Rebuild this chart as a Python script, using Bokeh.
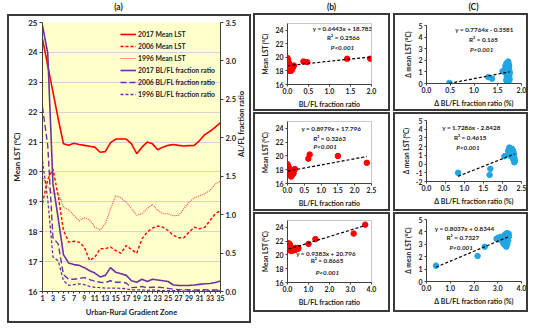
import math
from bokeh.plotting import figure
from bokeh.models import (Range1d, LinearAxis, FixedTicker, Label, Spacer,
                          Legend, LegendItem, NumeralTickFormatter)
from bokeh.layouts import row, column
from bokeh.core.properties import value
from bokeh.embed import file_html
from bokeh.resources import INLINE

FONT = "Lato"
TXT = "#222222"
BORDER = {"border": "2px solid #3a3a3a"}

# ---------------- data: panel (a) ----------------
zones = list(range(1, 36))
lst_2017 = [24.45, 23.56, 22.67, 21.78, 20.94, 20.89, 20.96, 20.92, 20.89, 20.86,
            20.83, 20.66, 20.68, 20.98, 21.1, 21.1, 21.1, 20.94, 20.61, 20.83,
            21.0, 20.94, 20.74, 20.83, 20.89, 20.92, 20.89, 20.87, 20.88, 20.89,
            21.05, 21.25, 21.36, 21.5, 21.65]
lst_2006 = [18.95, 19.75, 20.1, 19.2, 18.05, 17.65, 17.68, 17.65, 17.48, 17.04,
            17.15, 17.43, 17.43, 17.49, 17.37, 17.28, 17.54, 17.4, 17.28, 17.76,
            17.99, 18.12, 18.19, 18.15, 18.04, 17.88, 17.8, 17.8, 17.99, 18.15,
            18.1, 18.15, 18.38, 18.6, 18.71]
lst_1996 = [19.85, 19.5, 19.27, 19.3, 18.82, 18.73, 18.55, 18.36, 18.47, 18.4,
            18.15, 18.06, 18.27, 18.77, 19.21, 19.13, 18.99, 18.77, 18.55, 18.6,
            18.77, 18.92, 18.72, 18.6, 18.6, 18.53, 18.55, 18.77, 18.99, 19.13,
            19.21, 19.27, 19.38, 19.6, 19.69]
ratio_2017 = [3.46, 3.1, 1.4, 0.95, 0.48, 0.37, 0.35, 0.34, 0.31, 0.27,
              0.24, 0.19, 0.21, 0.31, 0.25, 0.23, 0.21, 0.14, 0.12, 0.16,
              0.13, 0.16, 0.15, 0.14, 0.13, 0.085, 0.08, 0.078, 0.08, 0.085,
              0.093, 0.1, 0.105, 0.117, 0.136]
ratio_2006 = [2.4, 1.9, 0.7, 0.62, 0.22, 0.16, 0.16, 0.17, 0.18, 0.155,
              0.135, 0.12, 0.115, 0.14, 0.12, 0.12, 0.11, 0.05, 0.055, 0.065,
              0.05, 0.055, 0.055, 0.05, 0.04, 0.03, 0.025, 0.025, 0.02, 0.02,
              0.02, 0.025, 0.02, 0.02, 0.025]
ratio_1996 = [1.7, 1.2, 0.45, 0.4, 0.14, 0.08, 0.09, 0.1, 0.09, 0.065,
              0.055, 0.05, 0.045, 0.045, 0.045, 0.04, 0.035, 0.02, 0.02, 0.02,
              0.015, 0.02, 0.015, 0.01, 0.01, 0.01, 0.01, 0.005, 0.01, 0.005,
              0.01, 0.005, 0.01, 0.005, 0.01]
left_ticks = list(range(16, 26))
right_ticks = [0, 0.5, 1.0, 1.5, 2.0, 2.5, 3.0, 3.5]
panel_titles = ["(a)", "(b)", "(C)"]

# ---------------- data: panels (b) ----------------
b1_x = [1.97, 1.42, 0.47, 0.38, 0.00, 0.01, 0.01, 0.02, 0.02, 0.03, 0.03, 0.04, 0.04,
        0.05, 0.05, 0.06, 0.07, 0.08, 0.09, 0.10, 0.11, 0.12, 0.13, 0.14, 0.15, 0.02,
        0.03, 0.04, 0.05, 0.06, 0.07, 0.08, 0.10, 0.01, 0.03]
b1_y = [19.8, 19.8, 19.3, 19.4, 19.9, 19.7, 19.5, 19.3, 19.1, 18.9, 18.7, 18.5, 18.3,
        18.2, 18.0, 18.1, 18.3, 18.0, 18.2, 18.4, 18.2, 18.5, 18.6, 18.7, 18.8, 18.8,
        18.4, 18.6, 18.9, 18.6, 18.5, 18.4, 18.6, 19.0, 19.2]
b2_x = [2.36, 1.50, 0.66, 0.62, 0.22, 0.00, 0.01, 0.01, 0.02, 0.02, 0.03, 0.03, 0.04,
        0.04, 0.05, 0.05, 0.06, 0.07, 0.08, 0.09, 0.10, 0.11, 0.12, 0.13, 0.14, 0.15,
        0.16, 0.17, 0.18, 0.06, 0.08, 0.10, 0.12, 0.02, 0.04]
b2_y = [19.0, 20.0, 20.2, 19.6, 18.1, 18.8, 18.6, 18.4, 18.2, 18.0, 17.8, 17.6, 17.4,
        17.9, 17.3, 17.7, 17.5, 17.2, 17.4, 17.1, 17.3, 17.0, 17.2, 17.5, 17.3, 17.6,
        17.4, 17.7, 17.5, 18.1, 17.8, 17.6, 17.9, 18.5, 18.3]
b3_x = [3.70, 3.15, 1.33, 1.00, 0.05, 0.06, 0.07, 0.08, 0.09, 0.10, 0.10, 0.12, 0.12,
        0.14, 0.15, 0.16, 0.18, 0.20, 0.22, 0.24, 0.26, 0.28, 0.30, 0.32, 0.34, 0.36,
        0.38, 0.40, 0.42, 0.44, 0.46, 0.48, 0.50, 0.52, 0.08]
b3_y = [24.4, 23.1, 22.3, 21.6, 21.7, 21.5, 21.3, 21.1, 20.9, 21.6, 20.7, 21.4, 20.8,
        21.2, 20.6, 21.0, 20.7, 20.9, 20.6, 20.8, 20.7, 20.9, 20.8, 20.7, 20.9, 20.8,
        21.0, 20.9, 20.8, 21.0, 20.9, 21.0, 20.9, 21.0, 21.6]

# ---------------- data: panels (c) ----------------
c1_x = [0.48, 1.30, 1.38, 1.60, 1.65, 1.66, 1.67, 1.68, 1.68, 1.69, 1.69, 1.70, 1.70,
        1.70, 1.71, 1.71, 1.71, 1.72, 1.72, 1.72, 1.73, 1.73, 1.73, 1.74, 1.74, 1.74,
        1.75, 1.75, 1.75, 1.72, 1.70, 1.69, 1.73, 1.74, 1.71]
c1_y = [0.05, 0.55, 0.42, 1.05, 1.2, 1.5, 0.9, 1.7, 0.3, 1.3, 0.6, 1.8, 1.0,
        0.15, 1.6, 0.8, 0.4, 1.4, 1.1, 0.05, 1.7, 0.7, 0.25, 1.5, 1.2, 0.5,
        1.0, 0.85, 0.35, 1.9, 1.25, 0.95, 1.35, 0.65, 0.2]
c2_x = [0.83, 1.66, 1.68, 2.05, 2.15, 2.16, 2.17, 2.18, 2.19, 2.20, 2.20, 2.21, 2.22,
        2.22, 2.23, 2.24, 2.24, 2.25, 2.26, 2.26, 2.27, 2.28, 2.28, 2.29, 2.29, 2.30,
        2.30, 2.30, 2.31, 2.31, 2.32, 2.32, 2.18, 2.25, 2.27]
c2_y = [-1.0, -1.25, -0.55, 0.9, 1.5, 1.2, 1.7, 1.9, 1.4, 1.0, 1.6, 1.8, 1.3,
        0.9, 1.5, 1.1, 1.7, 1.4, 0.8, 1.6, 1.2, 1.5, 0.6, 1.0, 1.3, 0.4,
        0.9, 1.1, 0.7, 0.2, 0.5, 0.3, 1.6, 1.75, 1.45]
c3_x = [0.40, 2.15, 2.45, 2.95, 3.00, 3.02, 3.06, 3.09, 3.12, 3.14, 3.17, 3.18, 3.21,
        3.23, 3.23, 3.25, 3.27, 3.29, 3.31, 3.32, 3.33, 3.35, 3.36, 3.36, 3.38, 3.39,
        3.40, 3.40, 3.42, 3.43, 3.44, 3.45, 3.46, 3.47, 3.33]
c3_y = [1.28, 2.05, 2.8, 3.45, 3.5, 3.4, 3.55, 3.45, 3.6, 3.5, 3.55, 3.3, 3.6,
        3.45, 3.1, 3.65, 3.0, 3.5, 3.8, 2.9, 3.4, 3.7, 3.55, 2.8, 3.2, 3.9,
        3.6, 3.0, 3.45, 3.75, 3.3, 3.55, 3.85, 3.65, 3.25]

# regression results printed on the chart
fits = {
    "b1": (0.6443, 18.783, "y = 0.6443x + 18.783", "R\u00b2 = 0.2566"),
    "b2": (0.8979, 17.796, "y = 0.8979x + 17.796", "R\u00b2 = 0.3263"),
    "b3": (0.9383, 20.796, "y = 0.9383x + 20.796", "R\u00b2 = 0.8665"),
    "c1": (0.7764, -0.3581, "y = 0.7764x - 0.3581", "R\u00b2 = 0.165"),
    "c2": (1.7286, -2.8428, "y = 1.7286x - 2.8428", "R\u00b2 = 0.4615"),
    "c3": (0.8037, 0.8344, "y = 0.8037x + 0.8344", "R\u00b2 = 0.7327"),
}
p_text = "P<0.001"


def style_axis(ax, size="8px", lsize="8px", tick_out=3, standoff=2, lstand=3):
    ax.major_label_text_font = FONT
    ax.major_label_text_font_size = size
    ax.major_label_text_font_style = "bold"
    ax.major_label_text_color = TXT
    ax.axis_label_text_font = FONT
    ax.axis_label_text_font_size = lsize
    ax.axis_label_text_font_style = "bold"
    ax.axis_label_text_color = TXT
    ax.axis_line_color = "#404040"
    ax.axis_line_width = 1
    ax.major_tick_line_color = "#404040"
    ax.minor_tick_line_color = None
    ax.major_tick_in = 0
    ax.major_tick_out = tick_out
    ax.major_label_standoff = standoff
    ax.axis_label_standoff = lstand


# ---------------- title strip ----------------
pt = figure(width=550, height=13, x_range=Range1d(0, 550), y_range=Range1d(0, 13),
            output_backend="svg", toolbar_location=None,
            min_border_left=0, min_border_right=0, min_border_top=0, min_border_bottom=0)
pt.axis.visible = False
pt.grid.visible = False
pt.outline_line_color = None
pt.text(x=[118, 331, 473], y=[6.5, 6.5, 6.5], text=panel_titles,
        text_font=value(FONT), text_font_size="8.5px", text_font_style="bold",
        text_color=TXT, text_align="center", text_baseline="middle")

# ---------------- panel (a) ----------------
pa = figure(width=244, height=309, x_range=Range1d(1, 35), y_range=Range1d(16, 25),
            output_backend="svg", toolbar_location=None, styles=BORDER,
            min_border_left=26, min_border_right=28, min_border_top=6, min_border_bottom=34)
pa.background_fill_color = "#FFFFCC"
pa.outline_line_color = None
pa.xgrid.grid_line_color = None
pa.ygrid.grid_line_color = "#D4D4D4"
pa.ygrid.ticker = FixedTicker(ticks=left_ticks)
pa.yaxis.ticker = FixedTicker(ticks=left_ticks)
pa.xaxis.ticker = FixedTicker(ticks=zones)
pa.xaxis.major_label_overrides = {z: "" for z in zones if z % 2 == 0}
pa.yaxis.axis_label = "Mean LST (\u00b0C)"
pa.xaxis.axis_label = "Urban-Rural Gradient Zone"
style_axis(pa.yaxis[0], size="8px", lsize="7.8px", tick_out=3, standoff=2, lstand=3)
style_axis(pa.xaxis[0], size="7px", lsize="7.6px", tick_out=2, standoff=1, lstand=3)
pa.extra_y_ranges = {"ratio": Range1d(0, 3.5)}
ra = LinearAxis(y_range_name="ratio", ticker=FixedTicker(ticks=right_ticks),
                formatter=NumeralTickFormatter(format="0.0"))
ra.axis_label = "AL/FL fraction ratio"
style_axis(ra, size="7.5px", lsize="7.5px", tick_out=3, standoff=2, lstand=3)
try:
    ra.axis_label_orientation = math.pi / 2
except Exception:
    pass
pa.add_layout(ra, "right")

r1 = pa.line(zones, lst_2017, color="#FF0000", line_width=1.6)
r2 = pa.line(zones, lst_2006, color="#FF0000", line_width=1.4, line_dash="3 2")
r3 = pa.line(zones, lst_1996, color="#FF4040", line_width=1.1, line_dash="1 1")
r4 = pa.line(zones, ratio_2017, color="#7030A0", line_width=1.6, y_range_name="ratio")
r5 = pa.line(zones, ratio_2006, color="#7030A0", line_width=1.4, line_dash="6 3",
             y_range_name="ratio")
r6 = pa.line(zones, ratio_1996, color="#7030A0", line_width=1.3, line_dash="3 2",
             y_range_name="ratio")
leg = Legend(items=[LegendItem(label="2017 Mean LST", renderers=[r1]),
                    LegendItem(label="2006 Mean LST", renderers=[r2]),
                    LegendItem(label="1996 Mean LST", renderers=[r3]),
                    LegendItem(label="2017 BL/FL fraction ratio", renderers=[r4]),
                    LegendItem(label="2006 BL/FL fraction ratio", renderers=[r5]),
                    LegendItem(label="1996 BL/FL fraction ratio", renderers=[r6])],
             location=(78, 192))
leg.label_text_font = FONT
leg.label_text_font_size = "6.8px"
leg.label_text_font_style = "bold"
leg.label_text_color = TXT
leg.glyph_width = 16
leg.glyph_height = 10
leg.label_height = 10
leg.spacing = 2
leg.padding = 0
leg.margin = 0
leg.label_standoff = 2
leg.background_fill_alpha = 0
leg.border_line_alpha = 0
pa.add_layout(leg)


# ---------------- scatter panels ----------------
def scatter_panel(w, h, xr, yr, xticks, yticks, xs, ys, color, key, eq_pos,
                  mbl, mbr, mbt, mbb, ylabel, xlabel, outline):
    slope, icpt, eq, r2 = fits[key]
    p = figure(width=w, height=h, x_range=Range1d(*xr), y_range=Range1d(*yr),
               output_backend="svg", toolbar_location=None, styles=BORDER,
               min_border_left=mbl, min_border_right=mbr, min_border_top=mbt,
               min_border_bottom=mbb)
    p.xgrid.grid_line_color = None
    p.ygrid.grid_line_color = None
    p.outline_line_color = "#C8C8C8" if outline else None
    p.xaxis.ticker = FixedTicker(ticks=xticks)
    p.yaxis.ticker = FixedTicker(ticks=yticks)
    p.xaxis.formatter = NumeralTickFormatter(format="0.0")
    p.yaxis.formatter = NumeralTickFormatter(format="0")
    p.xaxis.axis_label = xlabel
    p.yaxis.axis_label = ylabel
    style_axis(p.xaxis[0], size="7px", lsize="7px", tick_out=2, standoff=1, lstand=3)
    style_axis(p.yaxis[0], size="7px", lsize="6.5px", tick_out=2, standoff=2, lstand=3)
    p.scatter(xs, ys, size=5.5, color=color, line_color=color)
    x0, x1 = min(xs), max(xs)
    p.line([x0, x1], [slope * x0 + icpt, slope * x1 + icpt], color="#000000",
           line_width=1.2, line_dash="3 2")
    for (tx, ty), txt, st in zip(eq_pos, [eq, r2, p_text], ["bold", "bold", "bold italic"]):
        p.add_layout(Label(x=tx, y=ty, text=txt, text_font=FONT, text_font_size="6.3px",
                           text_font_style=st, text_color=TXT, text_align="center",
                           text_baseline="middle"))
    return p


RED = "#FF0000"
BLUE = "#22A5E3"
ylab_b = "Mean LST (\u00b0C)"
xlab_b = "BL/FL fraction ratio"
ylab_c = "\u0394 mean LST (\u00b0C)"
xlab_c = "\u0394 BL/FL fraction ratio (%)"
yt_b = [16, 18, 20, 22, 24]

b1 = scatter_panel(137, 98, (0, 2), (16, 25), [0, 0.5, 1.0, 1.5, 2.0], yt_b, b1_x, b1_y,
                   RED, "b1", [(1.31, 24.2), (1.33, 22.9), (1.31, 21.5)],
                   32, 21, 8, 29, ylab_b, xlab_b, True)
b2 = scatter_panel(137, 99, (0, 2.5), (16, 25), [0, 0.5, 1.0, 1.5, 2.0, 2.5], yt_b, b2_x, b2_y,
                   RED, "b2", [(1.3, 24.0), (1.25, 22.6), (1.12, 21.3)],
                   32, 11, 7, 30, ylab_b, xlab_b, True)
b3 = scatter_panel(137, 100, (0, 4), (16, 25), [0, 1.0, 2.0, 3.0, 4.0], yt_b, b3_x, b3_y,
                   RED, "b3", [(1.83, 20.2), (1.88, 19.15), (1.9, 17.4)],
                   32, 17, 6, 32, ylab_b, xlab_b, True)
c1 = scatter_panel(135, 98, (0, 2), (0, 5), [0, 0.5, 1.0, 1.5, 2.0], [0, 1, 2, 3, 4, 5],
                   c1_x, c1_y, BLUE, "c1", [(1.22, 4.63), (1.2, 3.77), (1.16, 2.9)],
                   31, 9, 10, 30, ylab_c, xlab_c, False)
c2 = scatter_panel(135, 99, (0, 2.5), (-2, 5), [0, 0.5, 1.0, 1.5, 2.0, 2.5],
                   [-2, -1, 0, 1, 2, 3, 4, 5], c2_x, c2_y, BLUE, "c2",
                   [(1.18, 4.14), (1.15, 3.0), (1.09, 1.86)],
                   31, 9, 6, 32, ylab_c, xlab_c, False)
c3 = scatter_panel(135, 100, (0, 4), (0, 5), [0, 1.0, 2.0, 3.0, 4.0], [0, 1, 2, 3, 4, 5],
                   c3_x, c3_y, BLUE, "c3", [(1.6, 4.31), (1.53, 3.51), (1.46, 2.72)],
                   31, 9, 5, 33, ylab_c, xlab_c, False)

col_a = column(Spacer(width=10, height=1), pa)
col_b = column(b1, Spacer(width=10, height=1), b2, Spacer(width=10, height=1), b3)
col_c = column(c1, Spacer(width=10, height=1), c2, Spacer(width=10, height=1), c3)
main = row(Spacer(width=7, height=10), col_a, Spacer(width=2, height=10), col_b,
           Spacer(width=3, height=10), col_c)
layout = column(pt, main)
open("out.html", "w").write(file_html(layout, INLINE))
